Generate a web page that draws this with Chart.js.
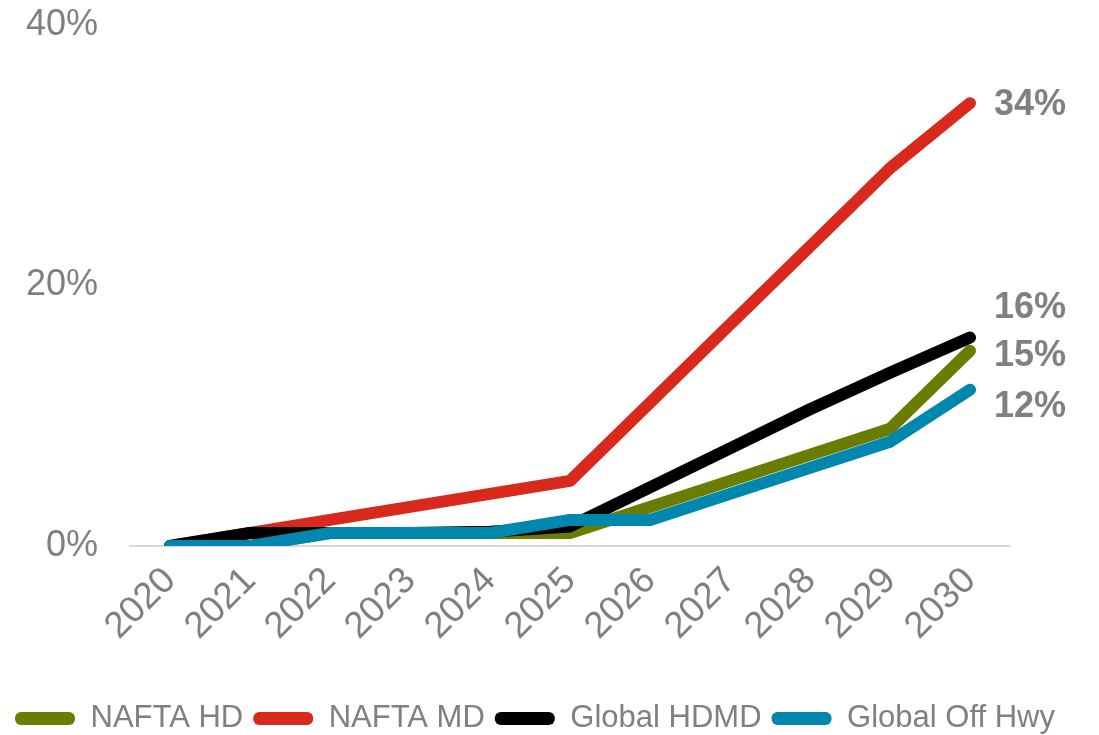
<!DOCTYPE html>
<html>
<head>
<meta charset="utf-8">
<script src="https://cdn.jsdelivr.net/npm/chart.js@4/dist/chart.umd.min.js"></script>
<style>
  html, body { margin: 0; padding: 0; background: #fff; }
  #wrap { width: 1099px; height: 735px; }
</style>
</head>
<body>
<div id="wrap"><canvas id="chart"></canvas></div>
<script>
// Data
const years = ['2020', '2021', '2022', '2023', '2024', '2025', '2026', '2027', '2028', '2029', '2030'];
const naftaHD = [0, 0, 1, 1, 1, 1, 3, 5, 7, 9, 15];
const naftaMD = [0, 1, 2, 3, 4, 5, 11, 17, 23, 29, 34];
const globalHDMD = [0, 1, 1, 1, 1.1, 1.5, 4.5, 7.5, 10.5, 13.3, 16];
const globalOffHwy = [0, 0, 1, 1, 1, 2, 2, 4, 6, 8, 12];
const yTicks = [0, 20, 40];

const GRAY = '#808080';
const FONT = '"Liberation Sans", Arial, sans-serif';

// End-of-line value labels
const endLabels = {
    id: 'endLabels',
    afterDatasetsDraw(chart, args, opts) {
        const ctx = chart.ctx;
        ctx.save();
        ctx.font = 'bold 36px ' + FONT;
        ctx.fillStyle = GRAY;
        ctx.textBaseline = 'middle';
        ctx.textAlign = 'left';
        chart.data.datasets.forEach((ds, i) => {
            const meta = chart.getDatasetMeta(i);
            const pt = meta.data[meta.data.length - 1];
            const v = ds.data[ds.data.length - 1];
            ctx.fillText(Math.round(v) + '%', pt.x + 24, pt.y + (opts.offsets[i] || 0));
        });
        ctx.restore();
    }
};

function series(label, data, color, order) {
    return {
        label: label,
        data: data,
        borderColor: color,
        backgroundColor: color,
        borderWidth: 12,
        borderCapStyle: 'round',
        borderJoinStyle: 'round',
        pointRadius: 0,
        tension: 0,
        order: order
    };
}

const defaultLabels = Chart.defaults.plugins.legend.labels.generateLabels;

new Chart(document.getElementById('chart'), {
    type: 'line',
    data: {
        labels: years,
        datasets: [
            series('NAFTA HD', naftaHD, '#6B7D00', 4),
            series('NAFTA MD', naftaMD, '#D9291C', 3),
            series('Global HDMD', globalHDMD, '#000000', 2),
            series('Global Off Hwy', globalOffHwy, '#0087AD', 1)
        ]
    },
    options: {
        responsive: true,
        maintainAspectRatio: false,
        animation: false,
        layout: {
            padding: { left: 5, right: 0, top: 25, bottom: -9 }
        },
        plugins: {
            tooltip: { enabled: false },
            legend: {
                position: 'bottom',
                align: 'start',
                reverse: true,
                labels: {
                    boxWidth: 60,
                    boxHeight: 13,
                    useBorderRadius: true,
                    borderRadius: 6,
                    padding: 10,
                    color: GRAY,
                    font: { family: FONT, size: 31 },
                    generateLabels: (chart) => defaultLabels(chart).map(l => {
                        l.lineWidth = 0;
                        return l;
                    })
                }
            },
            endLabels: { offsets: [5, 2, -30, 17] }
        },
        scales: {
            x: {
                offset: true,
                grid: { display: false, drawTicks: false },
                border: { display: true, color: '#d9d9d9', width: 2 },
                afterFit: (scale) => { scale.height = 147; },
                ticks: {
                    color: GRAY,
                    maxRotation: 45,
                    minRotation: 45,
                    padding: 13,
                    font: { family: FONT, size: 37 }
                }
            },
            y: {
                min: 0,
                max: 40,
                afterBuildTicks: (axis) => { axis.ticks = yTicks.map(v => ({ value: v })); },
                afterFit: (scale) => { scale.width = 125; scale.paddingTop = 0; },
                grid: { display: false, drawTicks: false },
                border: { display: false },
                ticks: {
                    color: GRAY,
                    padding: 32,
                    callback: (v) => v + '%',
                    font: { family: FONT, size: 36 }
                }
            },
            y2: {
                position: 'right',
                display: true,
                grid: { display: false, drawTicks: false },
                border: { display: false },
                ticks: { display: false },
                afterFit: (scale) => { scale.width = 89; }
            }
        }
    },
    plugins: [endLabels]
});
</script>
</body>
</html>
